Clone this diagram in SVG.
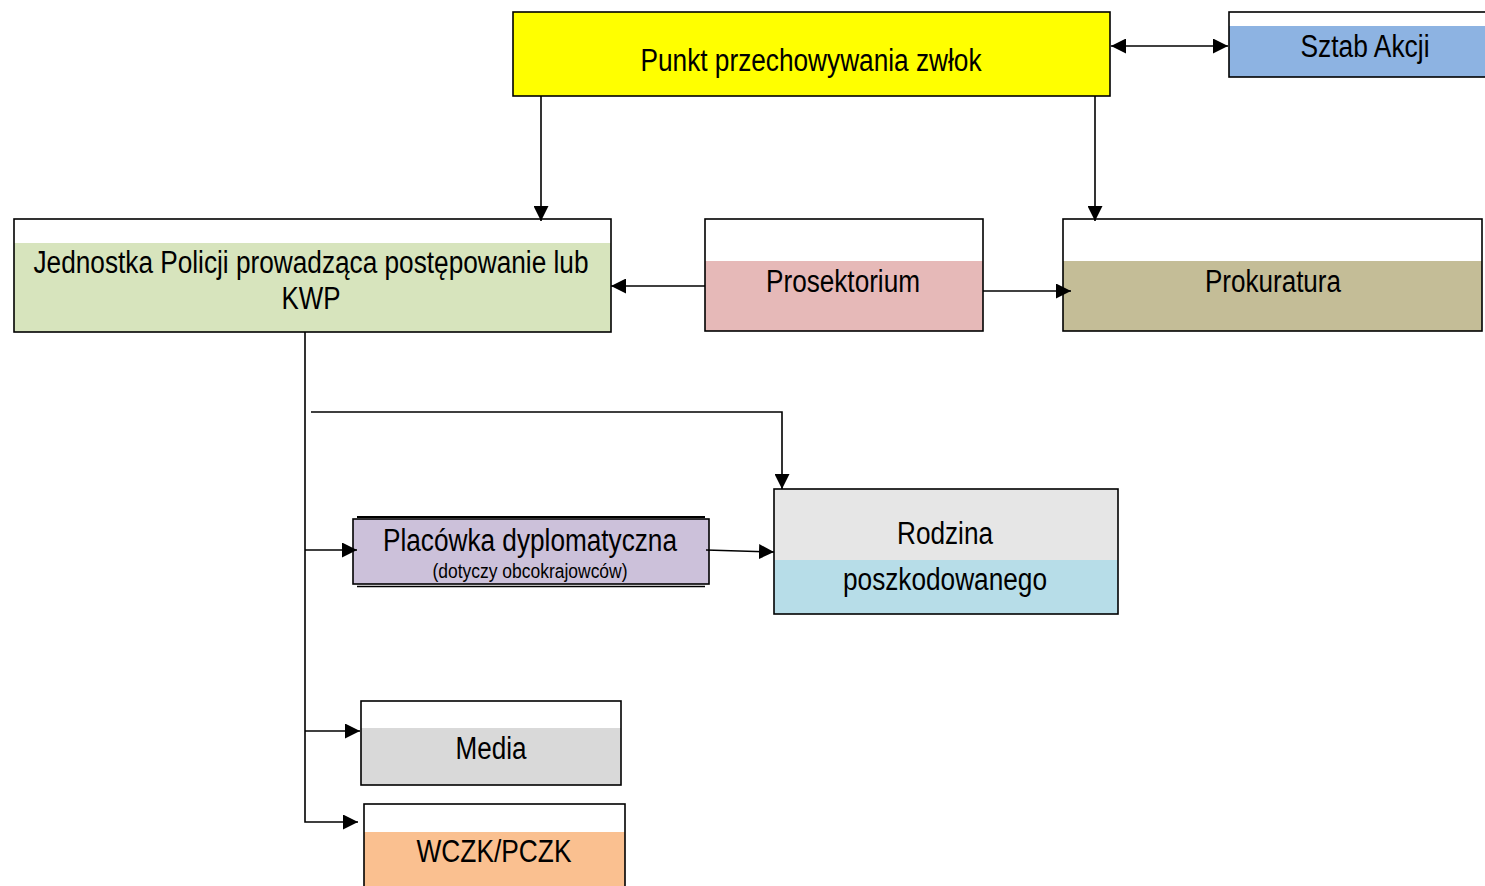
<svg xmlns="http://www.w3.org/2000/svg" width="1485" height="886" viewBox="0 0 1485 886">
<style>
text{font-family:"Liberation Sans",Arial,sans-serif;font-size:31px;fill:#000;text-anchor:middle}
.sm{font-size:20px}
.bd{fill:none;stroke:#000;stroke-width:1.6}
.ln{fill:none;stroke:#000;stroke-width:1.6}
</style>
<defs>
<marker id="ah" viewBox="0 0 10 10" refX="10" refY="5" markerWidth="15" markerHeight="15" markerUnits="userSpaceOnUse" orient="auto-start-reverse">
<path d="M0,0 L10,5 L0,10 Z" fill="#000"/>
</marker>
</defs>
<rect width="1485" height="886" fill="#fff"/>

<g id="punkt">
<rect x="513" y="12" width="597" height="84" fill="#FFFF00"/>
<rect class="bd" x="513" y="12" width="597" height="84"/>
<text x="811" y="71" textLength="341" lengthAdjust="spacingAndGlyphs">Punkt przechowywania zwłok</text>
</g>

<g id="sztab">
<rect x="1229" y="26" width="258" height="51" fill="#8DB3E2"/>
<rect class="bd" x="1229" y="12" width="260" height="65"/>
<text x="1365" y="57" textLength="129" lengthAdjust="spacingAndGlyphs">Sztab Akcji</text>
</g>

<g id="jednostka">
<rect x="14" y="243" width="597" height="89" fill="#D7E4BD"/>
<rect class="bd" x="14" y="219" width="597" height="113"/>
<text x="311" y="273" textLength="555" lengthAdjust="spacingAndGlyphs">Jednostka Policji prowadząca postępowanie lub</text>
<text x="311" y="309" textLength="59" lengthAdjust="spacingAndGlyphs">KWP</text>
</g>

<g id="prosektorium">
<rect x="705" y="261" width="278" height="70" fill="#E6B9B8"/>
<rect class="bd" x="705" y="219" width="278" height="112"/>
<text x="843" y="292" textLength="154" lengthAdjust="spacingAndGlyphs">Prosektorium</text>
</g>

<g id="prokuratura">
<rect x="1063" y="261" width="419" height="70" fill="#C4BD97"/>
<rect class="bd" x="1063" y="219" width="419" height="112"/>
<text x="1273" y="292" textLength="136" lengthAdjust="spacingAndGlyphs">Prokuratura</text>
</g>

<g id="placowka">
<rect x="353" y="519" width="356" height="65" fill="#CCC1DA"/>
<rect class="bd" x="353" y="519" width="356" height="65"/>
<line x1="357" y1="517" x2="705" y2="517" stroke="#000" stroke-width="2"/>
<line x1="357" y1="586.5" x2="705" y2="586.5" stroke="#000" stroke-width="1.5"/>
<text x="530" y="551" textLength="294" lengthAdjust="spacingAndGlyphs">Placówka dyplomatyczna</text>
<text class="sm" x="530" y="578" textLength="195" lengthAdjust="spacingAndGlyphs">(dotyczy obcokrajowców)</text>
</g>

<g id="rodzina">
<rect x="774" y="489" width="344" height="71" fill="#E6E6E6"/>
<rect x="774" y="560" width="344" height="54" fill="#B7DDE8"/>
<rect class="bd" x="774" y="489" width="344" height="125"/>
<text x="945" y="544" textLength="96" lengthAdjust="spacingAndGlyphs">Rodzina</text>
<text x="945" y="590" textLength="204" lengthAdjust="spacingAndGlyphs">poszkodowanego</text>
</g>

<g id="media">
<rect x="361" y="728" width="260" height="57" fill="#D9D9D9"/>
<rect class="bd" x="361" y="701" width="260" height="84"/>
<text x="491" y="759" textLength="71" lengthAdjust="spacingAndGlyphs">Media</text>
</g>

<g id="wczk">
<rect x="364" y="832" width="261" height="56" fill="#FAC090"/>
<rect class="bd" x="364" y="804" width="261" height="90"/>
<text x="494" y="862" textLength="155" lengthAdjust="spacingAndGlyphs">WCZK/PCZK</text>
</g>

<g id="connectors">
<line class="ln" x1="541" y1="96" x2="541" y2="221" marker-end="url(#ah)"/>
<line class="ln" x1="1095" y1="96" x2="1095" y2="221" marker-end="url(#ah)"/>
<line class="ln" x1="1111" y1="46" x2="1228" y2="46" marker-start="url(#ah)" marker-end="url(#ah)"/>
<line class="ln" x1="705" y1="286" x2="611" y2="286" marker-end="url(#ah)"/>
<line class="ln" x1="983" y1="291" x2="1071" y2="291" marker-end="url(#ah)"/>
<polyline class="ln" points="305,332 305,822 358,822" marker-end="url(#ah)"/>
<polyline class="ln" points="311,412 782,412 782,489" marker-end="url(#ah)"/>
<line class="ln" x1="305" y1="550" x2="357" y2="550" marker-end="url(#ah)"/>
<line class="ln" x1="706" y1="550" x2="774" y2="552" marker-end="url(#ah)"/>
<line class="ln" x1="305" y1="731" x2="360" y2="731" marker-end="url(#ah)"/>
</g>
</svg>
